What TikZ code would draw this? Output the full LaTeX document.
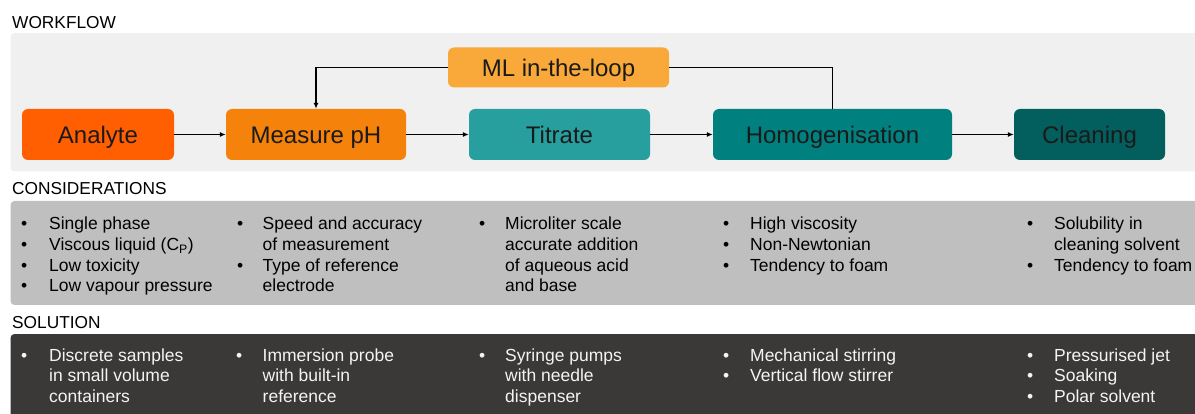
\documentclass[tikz,border=0pt]{standalone}
\usepackage{fontspec}
\setmainfont{Liberation Sans}
\usetikzlibrary{arrows.meta}
\definecolor{cAnalyte}{HTML}{FF5F00}
\definecolor{cMeasure}{HTML}{F5820B}
\definecolor{cML}{HTML}{F8A939}
\definecolor{cTitrate}{HTML}{279F9F}
\definecolor{cHomog}{HTML}{00807F}
\definecolor{cClean}{HTML}{035F5E}
\definecolor{cWfBg}{HTML}{F0F0F0}
\definecolor{cConsBg}{HTML}{BFBFBF}
\definecolor{cSolBg}{HTML}{3B3838}
\definecolor{cBoxText}{HTML}{1A1A1A}
\definecolor{cSolText}{HTML}{F4F4F4}
\newcommand{\blist}[2]{\begin{tabular}[t]{@{}p{#1}@{}l@{}}#2\end{tabular}}
\begin{document}
\begin{tikzpicture}[x=1pt,y=-1pt,
  box/.style={rounded corners=6pt, inner sep=0pt, text=cBoxText, font=\fontsize{24}{28}\selectfont, text height=19pt, text depth=0pt},
  lbl/.style={anchor=base west, inner sep=0pt, font=\fontsize{17.3}{20}\selectfont},
  col/.style={anchor=base west, inner sep=0pt, font=\fontsize{17.5}{20.6}\selectfont, align=left},
  arr/.style={-{Latex[length=6pt,width=5pt]}, line width=1.2pt},
  link/.style={line width=1.4pt},
  panel/.style={rounded corners=4pt}
]
\useasboundingbox (0,0) rectangle (1195,414);

% section labels
\node[lbl] (lwf) at (12,29) {WORKFLOW};
\node[lbl] (lcons) at (12,195) {CONSIDERATIONS};
\node[lbl] (lsol) at (12,328) {SOLUTION};

% panels
\fill[cWfBg, panel] (10.5,33) rectangle (1205,171.5);
\fill[cConsBg, panel] (10.5,201) rectangle (1205,305);
\fill[cSolBg, panel] (10.5,334) rectangle (1205,424);

% workflow boxes
\node[box, fill=cAnalyte, minimum width=152pt, minimum height=51pt] (an) at (98,134.5) {Analyte};
\node[box, fill=cMeasure, minimum width=180pt, minimum height=51pt] (mp) at (316,134.5) {Measure pH};
\node[box, fill=cTitrate, minimum width=181pt, minimum height=51pt] (ti) at (559.5,134.5) {Titrate};
\node[box, fill=cHomog, minimum width=239pt, minimum height=51pt] (ho) at (832.5,134.5) {Homogenisation};
\node[box, fill=cClean, minimum width=151pt, minimum height=51pt] (cl) at (1089.5,134.5) {Cleaning};
\node[box, fill=cML, minimum width=221pt, minimum height=40pt] (ml) at (558.5,67.5) {ML in-the-loop};

% connectors
\draw[arr] (an.east) -- (mp.west);
\draw[arr] (mp.east) -- (ti.west);
\draw[arr] (ti.east) -- (ho.west);
\draw[arr] (ho.east) -- (cl.west);
\draw[link, -{Latex[length=6pt,width=5pt]}] (ml.west) -| (mp.north);
\draw[link] (ml.east) -| (ho.north);

% considerations
\node[col] (c1) at (21,230) {\blist{28pt}{\textbullet & Single phase\\ \textbullet & Viscous liquid (C\textsubscript{P})\\ \textbullet & Low toxicity\\ \textbullet & Low vapour pressure}};
\node[col] (c2) at (237,230) {\blist{25.5pt}{\textbullet & Speed and accuracy\\ & of measurement\\ \textbullet & Type of reference\\ & electrode}};
\node[col] (c3) at (479,230) {\blist{26pt}{\textbullet & Microliter scale\\ & accurate addition\\ & of aqueous acid\\ & and base}};
\node[col] (c4) at (723,230) {\blist{27pt}{\textbullet & High viscosity\\ \textbullet & Non-Newtonian\\ \textbullet & Tendency to foam}};
\node[col] (c5) at (1027,230) {\blist{27pt}{\textbullet & Solubility in\\ & cleaning solvent\\ \textbullet & Tendency to foam}};

% solutions
\node[col, text=cSolText] (s1) at (21,361) {\blist{28pt}{\textbullet & Discrete samples\\ & in small volume\\ & containers}};
\node[col, text=cSolText] (s2) at (236,361) {\blist{26.5pt}{\textbullet & Immersion probe\\ & with built-in\\ & reference}};
\node[col, text=cSolText] (s3) at (479,361) {\blist{26pt}{\textbullet & Syringe pumps\\ & with needle\\ & dispenser}};
\node[col, text=cSolText] (s4) at (723,361) {\blist{27pt}{\textbullet & Mechanical stirring\\ \textbullet & Vertical flow stirrer}};
\node[col, text=cSolText] (s5) at (1027,361) {\blist{27pt}{\textbullet & Pressurised jet\\ \textbullet & Soaking\\ \textbullet & Polar solvent}};
\end{tikzpicture}
\end{document}
